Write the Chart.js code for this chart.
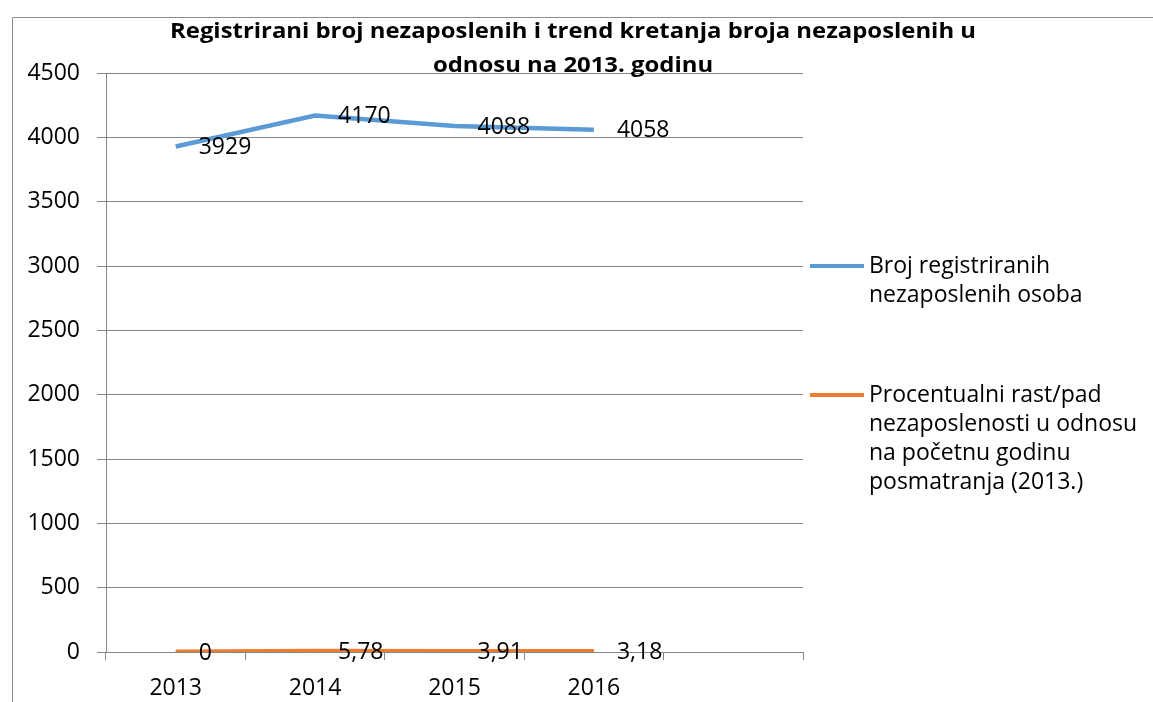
<!DOCTYPE html>
<html>
<head>
<meta charset="utf-8">
<script src="https://cdn.jsdelivr.net/npm/chart.js@4"></script>
<style>
  html, body { margin: 0; padding: 0; background: #fff; }
  #wrap { position: relative; width: 1153px; height: 702px; }
</style>
</head>
<body>
<div id="wrap"><canvas id="chart" width="1153" height="702"></canvas></div>
<script>
// chart values
const years = ["2013", "2014", "2015", "2016", ""];
const unemployed = [3929, 4170, 4088, 4058, null];
const changePct = [0, 5.78, 3.91, 3.18, null];
const unemployedLabels = ["3929", "4170", "4088", "4058"];
const changeLabels = ["0", "5,78", "3,91", "3,18"];

const titleLines = [
  "Registrirani broj nezaposlenih i trend kretanja broja nezaposlenih u",
  "odnosu na 2013. godinu"
];
const legendLines = [
  ["Broj registriranih", "nezaposlenih osoba"],
  ["Procentualni rast/pad", "nezaposlenosti u odnosu", "na početnu godinu", "posmatranja (2013.)"]
];

const FONT = "'Open Sans', 'DejaVu Sans', sans-serif";
const TXT = 23;
const BLUE = "#5B9BD5";
const ORANGE = "#ED7D31";
const GRID = "#878787";

// frame, title, legend and value labels drawn straight on the canvas
const extras = {
  id: "extras",
  beforeDraw(chart) {
    const ctx = chart.ctx;
    ctx.save();
    ctx.fillStyle = "#fff";
    ctx.fillRect(0, 0, chart.width, chart.height);
    ctx.strokeStyle = "#8c8c8c";
    ctx.lineWidth = 1;
    ctx.beginPath();
    ctx.moveTo(12.5, chart.height);
    ctx.lineTo(12.5, 17.5);
    ctx.lineTo(chart.width, 17.5);
    ctx.stroke();
    ctx.restore();
  },
  afterDraw(chart) {
    const ctx = chart.ctx;
    ctx.save();

    // title, two centred lines squeezed to the reference width
    ctx.fillStyle = "#000";
    ctx.textBaseline = "alphabetic";
    ctx.textAlign = "center";
    ctx.font = "bold 22px " + FONT;
    const sx = 806 / ctx.measureText(titleLines[0]).width;
    const baselines = [38, 72];
    titleLines.forEach((t, i) => {
      ctx.save();
      ctx.translate(573, baselines[i]);
      ctx.scale(sx, 1);
      ctx.fillText(t, 0, 0);
      ctx.restore();
    });

    // legend
    ctx.textBaseline = "middle";
    ctx.textAlign = "left";
    ctx.font = TXT + "px " + FONT;
    const colors = [BLUE, ORANGE];
    const legendY = [266, 395];
    legendLines.forEach((lines, i) => {
      ctx.strokeStyle = colors[i];
      ctx.lineWidth = 4;
      ctx.beginPath();
      ctx.moveTo(810, legendY[i]);
      ctx.lineTo(864, legendY[i]);
      ctx.stroke();
      ctx.fillStyle = "#000";
      lines.forEach((l, j) => ctx.fillText(l, 869, legendY[i] + j * 29));
    });

    // value labels to the right of each point
    const labelSets = [unemployedLabels, changeLabels];
    labelSets.forEach((labels, di) => {
      const meta = chart.getDatasetMeta(di);
      labels.forEach((txt, k) => {
        const p = meta.data[k];
        ctx.fillText(txt, p.x + 23, p.y + 1);
      });
    });
    ctx.restore();
  }
};

new Chart(document.getElementById("chart"), {
  type: "line",
  data: {
    labels: years,
    datasets: [
      { label: legendLines[0].join(" "), data: unemployed, borderColor: BLUE, borderWidth: 4.5 },
      { label: legendLines[1].join(" "), data: changePct, borderColor: ORANGE, borderWidth: 5 }
    ]
  },
  options: {
    responsive: false,
    animation: false,
    layout: { padding: { top: 73, right: 350, left: 0, bottom: 0 } },
    elements: { point: { radius: 0 }, line: { tension: 0, borderCapStyle: "butt" } },
    plugins: { legend: { display: false }, title: { display: false }, tooltip: { enabled: false } },
    scales: {
      x: {
        offset: true,
        grid: { offset: true, drawOnChartArea: false, drawTicks: true, tickLength: 8, color: GRID },
        border: { color: GRID },
        ticks: { color: "#000", font: { family: FONT, size: TXT }, padding: 15, maxRotation: 0 },
        afterFit(s) { s.height = 50; }
      },
      y: {
        min: 0,
        max: 4500,
        grid: { color: GRID, tickLength: 9 },
        border: { color: GRID },
        ticks: {
          stepSize: 500, color: "#000", font: { family: FONT, size: TXT }, padding: 17,
          callback: v => String(v)
        },
        afterFit(s) { s.width = 106; }
      }
    }
  },
  plugins: [extras]
});
</script>
</body>
</html>
